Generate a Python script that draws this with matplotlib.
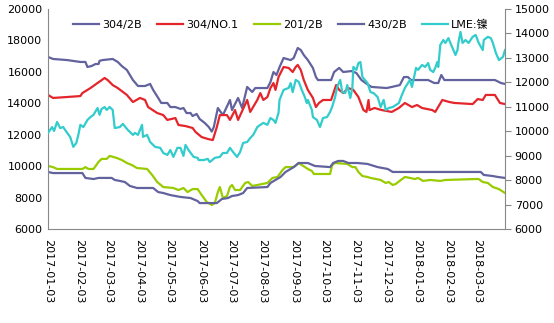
import matplotlib
matplotlib.use("Agg")
import matplotlib.pyplot as plt
import matplotlib.dates as mdates
import pandas as pd

plt.rcParams['font.family'] = ['DejaVu Sans', 'Noto Sans CJK SC']

# 304/2B (left axis, RMB/t)
d_304_2b = ["2017-01-03", "2017-01-08", "2017-01-22", "2017-02-04", "2017-02-09", "2017-02-11",
            "2017-02-15", "2017-02-19", "2017-02-22", "2017-02-23", "2017-02-26", "2017-03-08",
            "2017-03-13", "2017-03-17", "2017-03-22", "2017-03-28", "2017-04-02", "2017-04-09",
            "2017-04-14", "2017-04-17", "2017-04-22", "2017-04-25", "2017-05-01", "2017-05-04",
            "2017-05-09", "2017-05-14", "2017-05-17", "2017-05-20", "2017-05-24", "2017-05-26",
            "2017-05-30", "2017-06-02", "2017-06-07", "2017-06-11", "2017-06-14", "2017-06-16",
            "2017-06-20", "2017-06-25", "2017-07-02", "2017-07-04", "2017-07-10", "2017-07-14",
            "2017-07-19", "2017-07-24", "2017-07-27", "2017-08-08", "2017-08-11", "2017-08-14",
            "2017-08-17", "2017-08-20", "2017-08-24", "2017-08-31", "2017-09-03", "2017-09-07",
            "2017-09-10", "2017-09-13", "2017-09-17", "2017-09-22", "2017-09-25", "2017-09-27",
            "2017-10-10", "2017-10-13", "2017-10-18", "2017-10-22", "2017-10-30", "2017-11-04",
            "2017-11-09", "2017-11-16", "2017-11-19", "2017-12-04", "2017-12-09", "2017-12-17",
            "2017-12-21", "2017-12-25", "2017-12-28", "2018-01-14", "2018-01-20", "2018-01-24",
            "2018-01-27", "2018-01-30", "2018-03-08", "2018-03-21", "2018-03-27", "2018-03-31"]
v_304_2b = [16950, 16820, 16750, 16630, 16630, 16310,
            16370, 16500, 16500, 16700, 16750, 16820,
            16630, 16370, 16120, 15480, 15100, 15100,
            15230, 14850, 14340, 14020, 14020, 13760,
            13760, 13640, 13700, 13380, 13380, 13190,
            13320, 13000, 12750, 12490, 12200, 12490,
            13700, 13250, 14210, 13570, 14340, 13700,
            15040, 14720, 14970, 14970, 15350, 15990,
            15800, 16300, 16880, 16750, 16880, 17520,
            17390, 17070, 16750, 16250, 15670, 15480,
            15480, 15990, 16250, 15990, 16050, 15930,
            15480, 15160, 15040, 14970, 15040, 15160,
            15670, 15670, 15480, 15480, 15290, 15290,
            15800, 15480, 15480, 15480, 15290, 15230]

# 304/NO.1 (left axis)
d_304_no1 = ["2017-01-03", "2017-01-08", "2017-01-22", "2017-02-04", "2017-02-06", "2017-02-14",
             "2017-02-21", "2017-02-28", "2017-03-03", "2017-03-08", "2017-03-13", "2017-03-22",
             "2017-03-28", "2017-04-04", "2017-04-09", "2017-04-12", "2017-04-21", "2017-04-27",
             "2017-05-01", "2017-05-09", "2017-05-12", "2017-05-19", "2017-05-26", "2017-05-29",
             "2017-06-04", "2017-06-10", "2017-06-15", "2017-06-19", "2017-06-22", "2017-06-29",
             "2017-07-02", "2017-07-07", "2017-07-10", "2017-07-19", "2017-07-22", "2017-07-29",
             "2017-08-01", "2017-08-04", "2017-08-08", "2017-08-11", "2017-08-14", "2017-08-16",
             "2017-08-19", "2017-08-24", "2017-08-29", "2017-09-02", "2017-09-05", "2017-09-07",
             "2017-09-10", "2017-09-13", "2017-09-17", "2017-09-22", "2017-09-25", "2017-09-28",
             "2017-10-02", "2017-10-10", "2017-10-15", "2017-10-18", "2017-10-22", "2017-10-27",
             "2017-11-01", "2017-11-06", "2017-11-11", "2017-11-14", "2017-11-16", "2017-11-17",
             "2017-11-22", "2017-11-29", "2017-12-09", "2017-12-16", "2017-12-22", "2017-12-29",
             "2018-01-03", "2018-01-08", "2018-01-18", "2018-01-21", "2018-01-28", "2018-02-04",
             "2018-02-09", "2018-02-27", "2018-03-04", "2018-03-09", "2018-03-12", "2018-03-21",
             "2018-03-26", "2018-03-31"]
v_304_no1 = [14530, 14340, 14400, 14460, 14650, 14970,
             15290, 15610, 15480, 15160, 14970, 14530,
             14080, 14340, 14210, 13760, 13380, 13250,
             12940, 13060, 12620, 12550, 12430, 12170,
             11850, 11730, 11660, 12490, 13250, 13250,
             12940, 13570, 12940, 14210, 13450, 14210,
             14650, 14210, 14400, 14970, 15290, 14850,
             15670, 16310, 16250, 15990, 16310, 16440,
             16120, 15480, 14850, 14340, 13760, 14020,
             14210, 14210, 15160, 14850, 14650, 14970,
             14850, 14400, 13570, 13450, 14210, 13570,
             13700, 13570, 13450, 13700, 14020, 13760,
             13890, 13700, 13570, 13450, 14210, 14080,
             14020, 13950, 14270, 14210, 14530, 14530,
             14020, 13950]

# 201/2B (left axis)
d_201 = ["2017-01-03", "2017-01-08", "2017-01-12", "2017-02-06", "2017-02-09", "2017-02-12",
         "2017-02-17", "2017-02-22", "2017-02-25", "2017-03-02", "2017-03-05", "2017-03-12",
         "2017-03-17", "2017-03-22", "2017-03-27", "2017-04-01", "2017-04-11", "2017-04-16",
         "2017-04-21", "2017-04-27", "2017-05-07", "2017-05-12", "2017-05-17", "2017-05-21",
         "2017-05-26", "2017-05-31", "2017-06-04", "2017-06-09", "2017-06-14", "2017-06-17",
         "2017-06-20", "2017-06-22", "2017-06-25", "2017-06-29", "2017-07-02", "2017-07-04",
         "2017-07-07", "2017-07-12", "2017-07-17", "2017-07-20", "2017-07-24", "2017-07-29",
         "2017-08-08", "2017-08-13", "2017-08-18", "2017-08-23", "2017-08-26", "2017-09-03",
         "2017-09-08", "2017-09-11", "2017-09-17", "2017-09-21", "2017-09-23", "2017-10-09",
         "2017-10-11", "2017-10-14", "2017-10-26", "2017-10-31", "2017-11-03", "2017-11-06",
         "2017-11-10", "2017-11-15", "2017-11-18", "2017-11-28", "2017-12-03", "2017-12-06",
         "2017-12-10", "2017-12-13", "2017-12-18", "2017-12-22", "2017-12-27", "2018-01-01",
         "2018-01-04", "2018-01-09", "2018-01-16", "2018-01-26", "2018-01-31", "2018-03-02",
         "2018-03-05", "2018-03-09", "2018-03-14", "2018-03-19", "2018-03-25", "2018-03-31"]
v_201 = [10010, 9940, 9820, 9820, 9940, 9820,
         9820, 10270, 10460, 10460, 10650, 10520,
         10390, 10200, 10070, 9880, 9820, 9440,
         8990, 8670, 8610, 8480, 8610, 8350,
         8540, 8540, 8160, 7720, 7530, 7650,
         8350, 8670, 7970, 8100, 8670, 8800,
         8480, 8480, 8930, 8990, 8740, 8800,
         8930, 9250, 9310, 9760, 9940, 9940,
         10200, 10070, 9820, 9690, 9500, 9500,
         10070, 10200, 10140, 9940, 9940, 9630,
         9370, 9310, 9250, 9120, 8930, 8990,
         8800, 8870, 9120, 9310, 9250, 9180,
         9250, 9060, 9120, 9060, 9120, 9180,
         9180, 8990, 8930, 8670, 8540, 8290]

# 430/2B (left axis)
d_430 = ["2017-01-03", "2017-01-08", "2017-02-06", "2017-02-09", "2017-02-17", "2017-02-22",
         "2017-03-07", "2017-03-10", "2017-03-15", "2017-03-20", "2017-03-25", "2017-04-01",
         "2017-04-17", "2017-04-22", "2017-04-27", "2017-05-04", "2017-05-14", "2017-05-24",
         "2017-05-31", "2017-06-02", "2017-06-19", "2017-06-24", "2017-06-30", "2017-07-04",
         "2017-07-10", "2017-07-15", "2017-07-19", "2017-08-08", "2017-08-11", "2017-08-16",
         "2017-08-21", "2017-08-26", "2017-09-03", "2017-09-08", "2017-09-17", "2017-09-24",
         "2017-10-09", "2017-10-12", "2017-10-17", "2017-10-22", "2017-10-27", "2017-11-05",
         "2017-11-15", "2017-11-25", "2017-12-05", "2017-12-10", "2018-03-07", "2018-03-10",
         "2018-03-19", "2018-03-24", "2018-03-31"]
v_430 = [9630, 9560, 9560, 9250, 9180, 9250,
         9250, 9120, 9060, 8990, 8740, 8610,
         8610, 8350, 8290, 8160, 8040, 7970,
         7780, 7650, 7650, 7910, 7970, 8100,
         8160, 8290, 8610, 8670, 8930, 9120,
         9310, 9630, 9940, 10200, 10200, 10010,
         9940, 10200, 10330, 10330, 10200, 10200,
         10140, 9940, 9820, 9630, 9630, 9440,
         9370, 9310, 9250]

# LME nickel (right axis, USD/t)
d_lme = ["2017-01-03", "2017-01-07", "2017-01-09", "2017-01-12", "2017-01-15", "2017-01-18",
         "2017-01-22", "2017-01-25", "2017-01-28", "2017-01-31", "2017-02-02", "2017-02-04",
         "2017-02-07", "2017-02-11", "2017-02-14", "2017-02-17", "2017-02-21", "2017-02-23",
         "2017-02-25", "2017-02-28", "2017-03-02", "2017-03-05", "2017-03-08", "2017-03-10",
         "2017-03-15", "2017-03-18", "2017-03-23", "2017-03-28", "2017-03-30", "2017-04-02",
         "2017-04-06", "2017-04-07", "2017-04-11", "2017-04-14", "2017-04-19", "2017-04-24",
         "2017-04-27", "2017-05-01", "2017-05-04", "2017-05-07", "2017-05-11", "2017-05-14",
         "2017-05-17", "2017-05-19", "2017-05-22", "2017-05-27", "2017-05-31", "2017-06-01",
         "2017-06-06", "2017-06-10", "2017-06-12", "2017-06-17", "2017-06-22", "2017-06-25",
         "2017-06-29", "2017-07-02", "2017-07-05", "2017-07-09", "2017-07-12", "2017-07-15",
         "2017-07-19", "2017-07-22", "2017-07-25", "2017-07-29", "2017-08-01", "2017-08-04",
         "2017-08-08", "2017-08-11", "2017-08-14", "2017-08-16", "2017-08-19", "2017-08-20",
         "2017-08-24", "2017-08-29", "2017-08-31", "2017-09-02", "2017-09-05", "2017-09-08",
         "2017-09-11", "2017-09-14", "2017-09-16", "2017-09-17", "2017-09-21", "2017-09-22",
         "2017-09-26", "2017-09-29", "2017-10-02", "2017-10-06", "2017-10-09", "2017-10-11",
         "2017-10-14", "2017-10-16", "2017-10-19", "2017-10-21", "2017-10-24", "2017-10-26",
         "2017-10-29", "2017-10-31", "2017-11-01", "2017-11-04", "2017-11-06", "2017-11-08",
         "2017-11-10", "2017-11-15", "2017-11-18", "2017-11-21", "2017-11-25", "2017-11-28",
         "2017-12-01", "2017-12-03", "2017-12-06", "2017-12-10", "2017-12-13", "2017-12-16",
         "2017-12-19", "2017-12-22", "2017-12-25", "2017-12-27", "2017-12-29", "2018-01-02",
         "2018-01-04", "2018-01-08", "2018-01-11", "2018-01-14", "2018-01-16", "2018-01-19",
         "2018-01-21", "2018-01-23", "2018-01-24", "2018-01-26", "2018-01-29", "2018-01-31",
         "2018-02-03", "2018-02-05", "2018-02-08", "2018-02-10", "2018-02-12", "2018-02-13",
         "2018-02-15", "2018-02-17", "2018-02-20", "2018-02-23", "2018-02-27", "2018-03-02",
         "2018-03-05", "2018-03-09", "2018-03-10", "2018-03-14", "2018-03-17", "2018-03-19",
         "2018-03-22", "2018-03-25", "2018-03-29", "2018-03-31"]
v_lme = [9930, 10170, 10010, 10380, 10130, 10170,
         9930, 9760, 9360, 9520, 9850, 10260,
         10170, 10460, 10580, 10670, 10950, 10670,
         10910, 10990, 10870, 10990, 10870, 10130,
         10170, 10300, 10050, 9850, 9930, 9850,
         10260, 9770, 9850, 9560, 9360, 9320,
         9110, 9030, 9230, 8950, 9320, 9320,
         8990, 9440, 9230, 8950, 8910, 8820,
         8820, 8870, 8740, 8910, 8950, 9110,
         9110, 9320, 9150, 8950, 9150, 9520,
         9560, 9720, 9850, 10170, 10260, 10340,
         10260, 10540, 10460, 10340, 10750, 11280,
         11690, 11770, 11970, 11600, 12100, 12020,
         11690, 11400, 11150, 11280, 10870, 10580,
         10460, 10170, 10540, 10580, 10790, 10990,
         11400, 11810, 12100, 11600, 11560, 11890,
         11360, 11770, 12630, 12510, 12790, 12830,
         12220, 11970, 11600, 11560, 11400, 10990,
         11280, 10870, 10950, 10990, 11070, 11150,
         11480, 11770, 11970, 12100, 11810, 12590,
         12510, 12710, 12630, 12790, 12510, 12420,
         12590, 12830, 12630, 13530, 13730, 13610,
         13810, 13610, 13320, 13120, 13320, 13650,
         14060, 13610, 13730, 13610, 13860, 13940,
         13610, 13320, 13730, 13860, 13810, 13610,
         13200, 12910, 13040, 13320]

month_ticks = pd.date_range("2017-01-01", "2018-03-01", freq="MS") + pd.Timedelta(days=2)

fig = plt.figure(figsize=(5.54, 3.23), dpi=100)
ax = fig.add_axes([48 / 554, 1 - 229 / 323, (505 - 48) / 554, 220 / 323])
ax2 = ax.twinx()

lw = 1.6
l1, = ax.plot(pd.to_datetime(d_304_2b), v_304_2b, color="#62629E", lw=lw, label="304/2B")
l2, = ax.plot(pd.to_datetime(d_304_no1), v_304_no1, color="#E4262C", lw=lw, label="304/NO.1")
l3, = ax.plot(pd.to_datetime(d_201), v_201, color="#99CC00", lw=lw, label="201/2B")
l4, = ax.plot(pd.to_datetime(d_430), v_430, color="#62629E", lw=lw, label="430/2B")
l5, = ax2.plot(pd.to_datetime(d_lme), v_lme, color="#33CCCC", lw=lw, label="LME:镍")

ax.set_xlim(pd.Timestamp("2017-01-03"), pd.Timestamp("2018-03-31"))
ax.set_ylim(6000, 20000)
ax.set_yticks(range(6000, 20001, 2000))
ax2.set_ylim(6000, 15000)
ax2.set_yticks(range(6000, 15001, 1000))

ax.set_xticks(month_ticks)
ax.xaxis.set_major_formatter(mdates.DateFormatter("%Y-%m-%d"))
for lab in ax.get_xticklabels():
    lab.set_rotation(-90)
    lab.set_va("top")
    lab.set_ha("center")

for a in (ax, ax2):
    for s in a.spines.values():
        s.set_color("#888888")
    a.spines["top"].set_visible(False)
ax.spines["right"].set_visible(False)
ax2.spines["left"].set_visible(False)
ax2.spines["bottom"].set_visible(False)

ax.tick_params(axis="x", length=0, labelsize=8, pad=7)
ax.tick_params(axis="y", length=0, labelsize=8, pad=4)
ax2.tick_params(axis="y", length=4, color="#888888", labelsize=8, pad=3)

ax.legend(handles=[l1, l2, l3, l4, l5], loc="upper center", bbox_to_anchor=(0.51, 0.985),
          ncol=5, frameon=False, fontsize=8, handlelength=2.3, columnspacing=1.4,
          handletextpad=0.3, borderaxespad=0.3)

fig.savefig("out.png", dpi=100)
